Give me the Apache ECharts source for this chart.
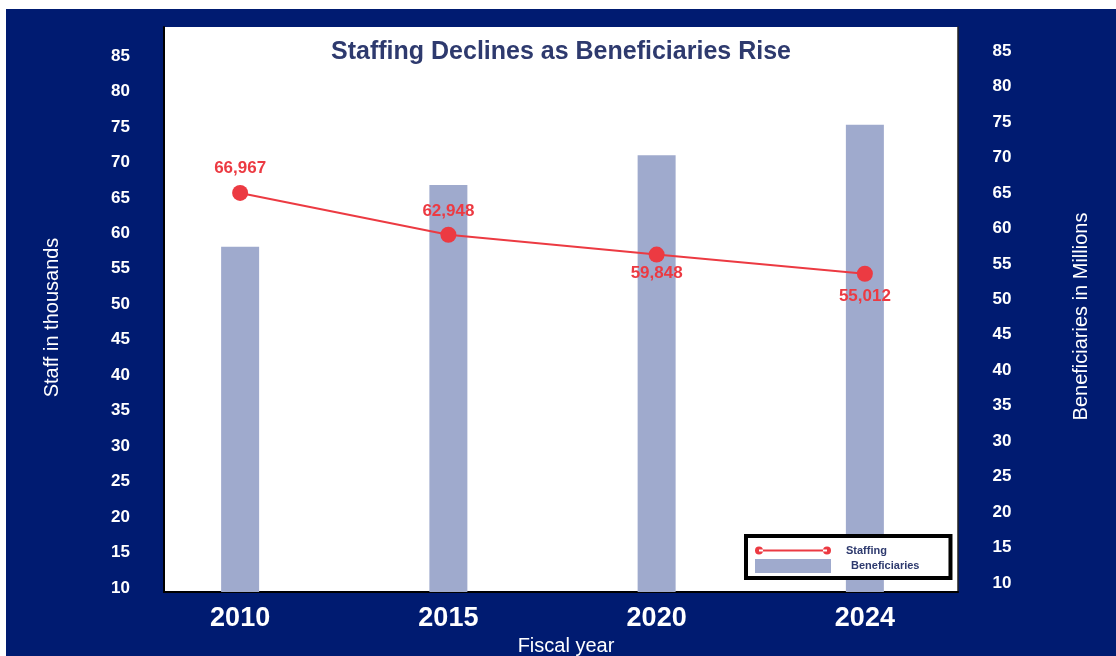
<!DOCTYPE html>
<html>
<head>
<meta charset="utf-8">
<title>Staffing Declines as Beneficiaries Rise</title>
<script src="https://cdn.jsdelivr.net/npm/echarts@6/dist/echarts.min.js"></script>
<style>
  html, body { margin: 0; padding: 0; background: #fff; }
  #chart { position: absolute; left: 6px; top: 9px; width: 1110px; height: 647px; }
</style>
</head>
<body>
<div id="chart"></div>
<script>
// fiscal years
const years = ['2010', '2015', '2020', '2024']
// staff head count, as printed on the points
const staffing = [66967, 62948, 59848, 55012]
// staff level (thousands) as plotted against the left axis
const staffLevel = [65.7, 59.8, 57.0, 54.3]
// beneficiaries in millions (right axis)
const beneficiaries = [57.4, 66.1, 70.3, 74.6]
// tick labels shared by both value axes
const yTicks = [10, 15, 20, 25, 30, 35, 40, 45, 50, 55, 60, 65, 70, 75, 80, 85]

const NAVY = '#001b71'
const INK = '#2e3a6e'
const RED = '#ec3a42'
const BAR = '#9faacd'
const FONT = '"Liberation Sans", Arial, sans-serif'

const labelSide = ['top', 'top', 'bottom', 'bottom']
const labelGap = [8.5, 6.5, 2, 6.5]

const chart = echarts.init(document.getElementById('chart'))

const legendLineIcon = 'path://M0,7 A4,4 0 1,0 8,7 A4,4 0 1,0 0,7 Z ' +
  'M68,7 A4,4 0 1,0 76,7 A4,4 0 1,0 68,7 Z M4,6 L72,6 L72,8 L4,8 Z'

chart.setOption({
  backgroundColor: NAVY,
  animation: false,
  textStyle: { fontFamily: FONT },
  title: {
    text: 'Staffing Declines as Beneficiaries Rise',
    left: 'center',
    top: 26,
    textStyle: { color: INK, fontSize: 25, fontWeight: 'bold', fontFamily: FONT }
  },
  legend: {
    orient: 'vertical',
    left: 740,
    top: 527,
    backgroundColor: '#fff',
    borderColor: '#000',
    borderWidth: 4,
    borderRadius: 0,
    padding: [9, 31, 5, 9],
    itemWidth: 76,
    itemHeight: 14,
    itemGap: 3,
    textStyle: { color: INK, fontSize: 11, fontWeight: 'bold', fontFamily: FONT, padding: [0, 0, 0, 10] },
    data: [
      { name: 'Staffing', icon: legendLineIcon, textStyle: { padding: [0, 0, 5, 10] } },
      { name: 'Beneficiaries', icon: 'rect', textStyle: { padding: [0, 0, 6, 15] } }
    ]
  },
  grid: [
    // white plot panel
    { left: 158, right: 158, top: 18, bottom: 64, show: true, backgroundColor: '#fff', borderWidth: 0, outerBoundsMode: 'none' },
    // data layer
    { left: 130, right: 147, top: 18, bottom: 64, outerBoundsMode: 'none' }
  ],
  xAxis: [
    {
      gridIndex: 0,
      type: 'category',
      data: years,
      name: 'Fiscal year',
      nameLocation: 'middle',
      nameGap: 44,
      nameTextStyle: { color: '#fff', fontSize: 20, fontFamily: FONT, padding: [0, 0, 0, 10] },
      axisLine: { lineStyle: { color: '#000', width: 2 } },
      axisTick: { show: false },
      axisLabel: { show: false }
    },
    {
      gridIndex: 1,
      type: 'category',
      data: years,
      axisLine: { show: false },
      axisTick: { show: false },
      axisLabel: { color: '#fff', fontSize: 27, fontWeight: 'bold', margin: 13, fontFamily: FONT }
    }
  ],
  yAxis: [
    {
      gridIndex: 0, type: 'value', position: 'left', min: 0, max: 1,
      axisLine: { show: true, lineStyle: { color: '#000', width: 2 } },
      axisTick: { show: false }, axisLabel: { show: false }, splitLine: { show: false }
    },
    {
      gridIndex: 0, type: 'value', position: 'right', min: 0, max: 1,
      axisLine: { show: true, lineStyle: { color: '#222', width: 1.5 } },
      axisTick: { show: false }, axisLabel: { show: false }, splitLine: { show: false }
    },
    {
      gridIndex: 1,
      type: 'value',
      position: 'left',
      min: 9.436,
      max: 89.09,
      name: 'Staff in thousands',
      nameLocation: 'middle',
      nameRotate: 90,
      nameGap: 74,
      nameTextStyle: { color: '#fff', fontSize: 20, fontFamily: FONT, padding: [0, 16, 0, 0] },
      axisLine: { show: false },
      axisTick: { show: false },
      splitLine: { show: false },
      axisLabel: {
        customValues: yTicks,
        color: '#fff', fontSize: 17, fontWeight: 'bold', margin: 6, fontFamily: FONT
      }
    },
    {
      gridIndex: 1,
      type: 'value',
      position: 'right',
      min: 8.731,
      max: 88.39,
      name: 'Beneficiaries in Millions',
      nameLocation: 'middle',
      nameRotate: 90,
      nameGap: 102,
      nameTextStyle: { color: '#fff', fontSize: 20, fontFamily: FONT, padding: [0, 14, 0, 0] },
      axisLine: { show: false },
      axisTick: { show: false },
      splitLine: { show: false },
      axisLabel: {
        customValues: yTicks,
        align: 'center',
        color: '#fff', fontSize: 17, fontWeight: 'bold', margin: 33, fontFamily: FONT
      }
    }
  ],
  series: [
    {
      name: 'Beneficiaries',
      type: 'bar',
      xAxisIndex: 1,
      yAxisIndex: 3,
      barWidth: 38,
      itemStyle: { color: BAR },
      data: beneficiaries
    },
    {
      name: 'Staffing',
      type: 'line',
      xAxisIndex: 1,
      yAxisIndex: 2,
      symbol: 'circle',
      symbolSize: 16,
      z: 5,
      lineStyle: { color: RED, width: 2 },
      itemStyle: { color: RED },
      label: {
        show: true,
        color: RED,
        fontSize: 17,
        fontWeight: 'bold',
        fontFamily: FONT
      },
      data: staffLevel.map((v, i) => ({
        value: v,
        label: {
          position: labelSide[i],
          distance: labelGap[i],
          formatter: staffing[i].toLocaleString('en-US')
        }
      }))
    }
  ]
})
</script>
</body>
</html>
